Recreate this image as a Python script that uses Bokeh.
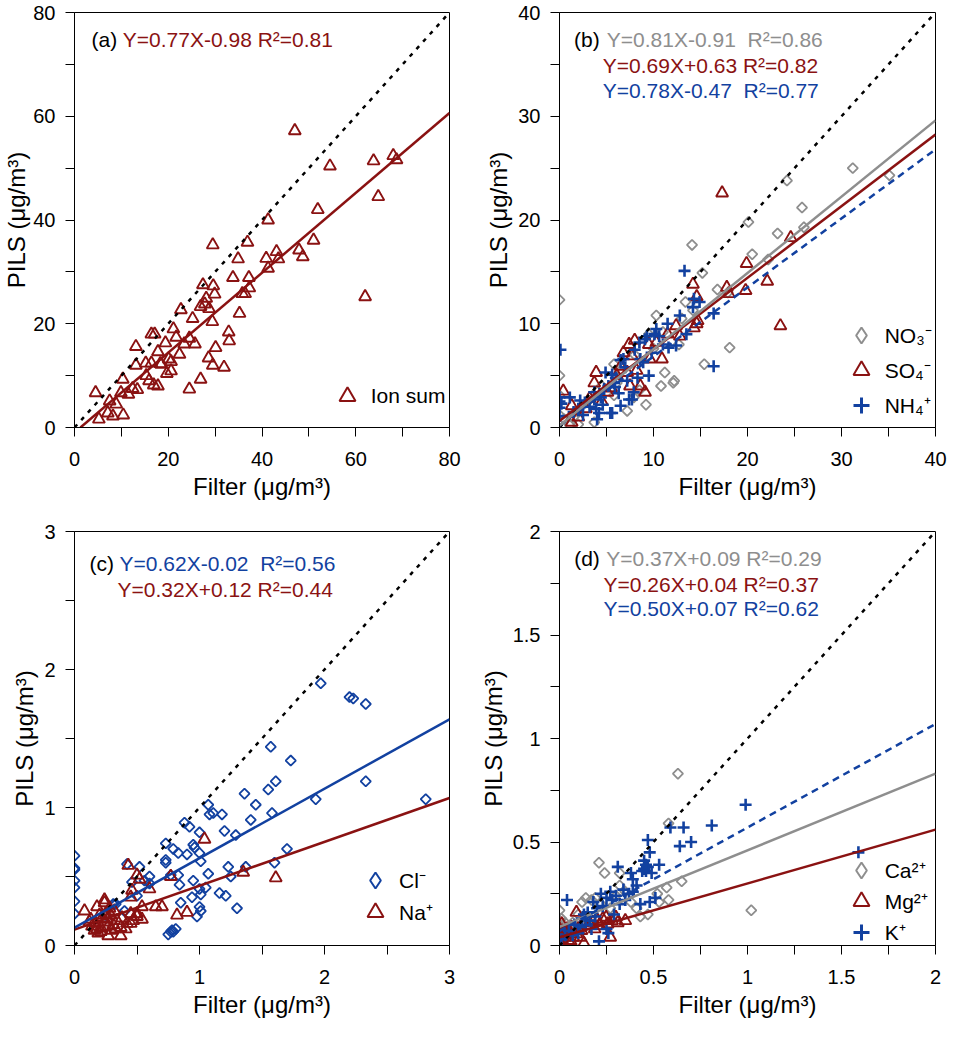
import numpy as np
from bokeh.plotting import figure
from bokeh.models import (Range1d, FixedTicker, CustomJSTickFormatter, Label,
                          Legend, LegendItem, ColumnDataSource)
from bokeh.layouts import gridplot
from bokeh.embed import file_html
from bokeh.resources import INLINE

RED = "#8A1212"
BLUE = "#1241A0"
GRAY = "#8E8E8E"
FONT = "Liberation Sans"

# ---------------- data ----------------
# (a) ion sum: (Filter, PILS)
ION_SUM = [(47.0, 57.2), (54.5, 50.4), (63.8, 51.4), (68.0, 52.4), (68.7, 51.6), (64.8, 44.5),
           (51.9, 42.0), (41.3, 40.0), (51.0, 36.1), (36.9, 35.7), (29.5, 35.2), (43.1, 33.9),
           (47.9, 34.2), (48.7, 32.9), (40.9, 32.6), (43.5, 32.5), (34.9, 32.5), (41.3, 30.7),
           (33.8, 28.9), (37.2, 28.9), (29.6, 27.3), (27.4, 27.5), (37.3, 26.9), (35.8, 25.8),
           (36.4, 25.8), (29.9, 25.7), (28.1, 24.9), (27.8, 23.8), (26.9, 23.3), (28.7, 22.9),
           (22.7, 22.7), (25.2, 21.0), (35.2, 22.0), (29.4, 20.4), (62.0, 25.2), (21.1, 19.0),
           (16.4, 18.0), (17.1, 18.0), (21.7, 17.4), (32.9, 18.4), (33.0, 16.7), (24.5, 17.2),
           (19.4, 16.3), (23.4, 16.1), (25.7, 16.1), (13.1, 15.6), (30.1, 15.4), (17.8, 14.6),
           (22.4, 14.1), (28.6, 13.4), (20.1, 13.2), (15.2, 12.4), (16.4, 12.4), (18.3, 12.3),
           (18.5, 12.2), (13.1, 12.0), (20.6, 12.7), (29.5, 12.0), (31.9, 11.6), (20.6, 10.9),
           (19.7, 10.4), (15.3, 10.0), (15.9, 9.0), (10.3, 9.3), (26.9, 9.3), (16.9, 8.2),
           (17.8, 8.0), (12.4, 7.5), (13.4, 7.3), (24.5, 7.4), (9.9, 6.7), (11.5, 6.4),
           (4.5, 6.7), (7.5, 5.1), (8.9, 4.5), (7.1, 2.8), (8.2, 2.2), (10.4, 2.4), (5.2, 1.6)]

# (b) NO3-, SO4-, NH4+
NO3 = [(31.2, 25.0), (24.2, 23.8), (35.1, 24.3), (25.8, 21.2), (26.0, 19.3), (20.1, 19.8),
       (23.2, 18.7), (20.5, 16.7), (14.1, 17.6), (22.2, 16.2), (15.2, 14.9), (16.8, 13.3),
       (10.3, 10.8), (13.4, 12.1), (12.7, 8.0), (18.1, 7.7), (15.4, 6.1), (11.2, 5.3),
       (12.1, 4.3), (12.2, 4.5), (10.8, 4.0), (7.2, 1.6), (9.2, 2.2), (0.0, 12.3), (0.0, 5.0),
       (0.0, 3.1), (1.1, 0.2), (3.7, 0.5), (2.0, 0.3), (5.8, 6.1), (8.5, 3.6), (6.1, 4.3),
       (7.9, 2.9), (5.8, 3.1), (10.0, 7.6), (11.0, 9.2), (14.2, 11.3), (17.9, 13.0),
       (13.0, 10.5), (9.5, 9.0), (8.0, 7.0), (6.5, 5.5), (4.5, 4.0), (3.0, 2.5), (2.0, 1.5),
       (0.5, 0.8), (1.5, 1.0), (4.0, 3.5), (0.0, 1.2)]
SO4 = [(17.3, 22.6), (24.6, 18.3), (19.9, 15.8), (22.1, 14.1), (23.5, 9.8), (19.8, 13.2),
       (18.0, 12.9), (14.2, 13.8), (14.6, 12.6), (14.7, 10.3), (14.3, 9.6), (10.9, 6.6),
       (9.5, 8.0), (8.0, 8.4), (7.4, 8.0), (7.7, 6.9), (9.1, 3.4), (8.6, 4.0), (3.9, 5.3),
       (3.7, 4.3), (0.4, 3.5), (1.3, 2.1), (2.0, 1.0), (6.1, 5.0), (7.2, 5.3), (12.8, 8.8),
       (12.4, 9.8), (5.1, 3.4), (6.5, 5.9), (7.5, 4.0), (10.3, 8.2), (9.6, 6.6), (17.8, 13.5),
       (14.6, 10.0), (1.3, 0.5), (4.5, 2.5), (5.5, 3.8), (8.2, 5.5), (6.8, 7.2), (11.5, 9.0),
       (2.8, 1.8), (3.2, 2.8)]
NH4 = [(13.3, 15.1), (14.3, 12.4), (14.9, 12.1), (16.4, 11.0), (12.8, 10.8), (11.5, 10.0),
       (10.3, 9.5), (10.6, 8.8), (9.3, 8.8), (8.5, 8.2), (11.6, 7.7), (13.5, 9.0), (16.4, 5.9),
       (0.1, 7.5), (0.0, 2.9), (0.0, 1.9), (0.0, 1.1), (0.2, 2.3), (1.1, 2.9), (5.6, 1.4),
       (6.5, 2.1), (4.0, 0.8), (4.2, 1.4), (6.8, 6.6), (7.4, 2.7), (7.9, 3.4), (9.5, 5.0),
       (8.9, 6.3), (5.8, 4.3), (4.9, 5.3), (2.7, 2.4), (2.0, 1.8), (3.7, 3.4), (12.4, 7.9),
       (14.2, 11.6), (9.1, 8.5), (11.0, 8.0), (2.2, 2.6), (3.9, 1.8), (5.4, 1.4), (7.7, 2.7),
       (8.6, 6.6), (6.5, 6.5), (5.6, 5.1), (4.75, 3.7), (3.7, 2.7), (6.0, 4.8), (7.0, 5.8),
       (8.0, 7.5), (9.8, 7.2), (10.1, 9.0), (3.2, 2.0), (4.4, 2.9), (5.2, 4.0), (7.2, 4.5),
       (8.3, 4.8), (6.3, 3.3), (2.5, 1.2), (1.5, 1.5), (0.0, 2.5), (4.6, 2.2), (5.9, 3.9)]

# (c) Cl-, Na+
CL = [(1.97, 1.90), (2.20, 1.80), (2.23, 1.79), (2.33, 1.75), (1.57, 1.44), (1.73, 1.34),
      (1.36, 1.10), (1.55, 1.13), (1.61, 1.19), (2.33, 1.19), (1.45, 1.02), (1.93, 1.06),
      (2.81, 1.06), (1.07, 1.02), (1.08, 0.95), (1.11, 0.96), (1.18, 0.95), (1.41, 0.91),
      (1.58, 0.96), (0.88, 0.89), (0.92, 0.86), (1.00, 0.82), (1.20, 0.83), (1.29, 0.80),
      (0.73, 0.74), (0.79, 0.70), (0.95, 0.73), (0.96, 0.71), (0.83, 0.67), (0.90, 0.66),
      (0.73, 0.62), (0.73, 0.60), (1.00, 0.67), (1.01, 0.61), (1.70, 0.70), (1.60, 0.60),
      (0.42, 0.59), (0.52, 0.57), (1.23, 0.57), (1.37, 0.57), (1.25, 0.50), (1.07, 0.52),
      (0.83, 0.51), (0.84, 0.44), (0.60, 0.50), (0.56, 0.47), (0.77, 0.51), (0.46, 0.46),
      (0.95, 0.47), (0.50, 0.36), (0.94, 0.35), (1.00, 0.41), (1.05, 0.42), (1.16, 0.38),
      (1.21, 0.36), (1.01, 0.37), (0.85, 0.31), (1.30, 0.27), (1.00, 0.28), (1.01, 0.25),
      (0.98, 0.21), (0.31, 0.30), (0.75, 0.08), (0.77, 0.10), (0.78, 0.11), (0.79, 0.10),
      (0.81, 0.12), (0.0, 0.65), (0.0, 0.56), (0.0, 0.55), (0.0, 0.47), (0.0, 0.42),
      (0.0, 0.32), (0.0, 0.23), (0.33, 0.30), (0.25, 0.22), (0.40, 0.25), (0.60, 0.45)]
NA = [(1.04, 0.77), (0.43, 0.58), (0.77, 0.50), (1.35, 0.53), (1.61, 0.49), (0.50, 0.51),
      (0.52, 0.48), (0.60, 0.41), (0.46, 0.40), (0.45, 0.35), (0.24, 0.33), (0.65, 0.28),
      (0.70, 0.28), (0.82, 0.22), (0.90, 0.24), (0.08, 0.25), (0.18, 0.28), (0.54, 0.28),
      (0.45, 0.23), (0.50, 0.21), (0.27, 0.07), (0.37, 0.07), (0.42, 0.16), (0.13, 0.19),
      (0.17, 0.16), (0.18, 0.12), (0.21, 0.13), (0.24, 0.17), (0.26, 0.19), (0.29, 0.22),
      (0.31, 0.15), (0.30, 0.11), (0.34, 0.18), (0.37, 0.13), (0.41, 0.12), (0.21, 0.10),
      (0.16, 0.11), (0.12, 0.17), (0.25, 0.23), (0.28, 0.27), (0.20, 0.22), (0.47, 0.18),
      (0.50, 0.23), (0.54, 0.19), (0.24, 0.31), (0.33, 0.12), (0.45, 0.16), (0.14, 0.14),
      (0.22, 0.20), (0.32, 0.25), (0.38, 0.20), (0.27, 0.14), (0.19, 0.09)]

# (d) Ca2+, Mg2+, K+
CA = [(0.63, 0.83), (0.58, 0.59), (1.02, 0.17), (0.65, 0.31), (0.57, 0.28), (0.58, 0.22),
      (0.53, 0.21), (0.47, 0.15), (0.21, 0.40), (0.24, 0.35), (0.32, 0.35), (0.32, 0.29),
      (0.14, 0.23), (0.12, 0.21), (0.19, 0.23), (0.0, 0.17), (0.01, 0.13), (0.03, 0.11),
      (0.52, 0.25), (0.38, 0.21), (0.41, 0.18), (0.43, 0.14), (0.27, 0.18), (0.07, 0.11),
      (0.05, 0.08), (0.17, 0.22), (0.0, 0.12), (0.10, 0.15), (0.22, 0.20), (0.30, 0.24),
      (0.35, 0.26), (0.15, 0.12), (0.02, 0.05)]
MG = [(0.09, 0.16), (0.27, 0.04), (0.35, 0.12), (0.31, 0.11), (0.13, 0.01), (0.004, 0.056),
      (0.03, 0.04), (0.056, 0.064), (0.073, 0.04), (0.038, 0.08), (0.0, 0.024), (0.10, 0.08),
      (0.126, 0.112), (0.15, 0.096), (0.178, 0.112), (0.204, 0.12), (0.23, 0.128),
      (0.256, 0.104), (0.28, 0.12), (0.021, 0.016), (0.0, 0.08), (0.012, 0.104),
      (0.047, 0.024), (0.09, 0.056), (0.187, 0.08), (0.213, 0.096), (0.248, 0.136),
      (0.30, 0.136), (0.0, 0.04), (0.065, 0.088), (0.117, 0.072), (0.02, 0.07),
      (0.06, 0.02), (0.11, 0.04)]
K = [(1.59, 0.45), (0.99, 0.68), (0.81, 0.58), (0.59, 0.57), (0.66, 0.57), (0.70, 0.50),
     (0.64, 0.48), (0.47, 0.51), (0.48, 0.45), (0.53, 0.39), (0.45, 0.41), (0.47, 0.38),
     (0.46, 0.36), (0.49, 0.35), (0.38, 0.35), (0.39, 0.32), (0.31, 0.38), (0.04, 0.22),
     (0.41, 0.29), (0.43, 0.20), (0.48, 0.21), (0.51, 0.23), (0.39, 0.26), (0.34, 0.27),
     (0.27, 0.26), (0.25, 0.23), (0.18, 0.21), (0.19, 0.14), (0.15, 0.16), (0.21, 0.02),
     (0.08, 0.10), (0.12, 0.13), (0.10, 0.06), (0.01, 0.03), (0.25, 0.08), (0.29, 0.15),
     (0.32, 0.20), (0.37, 0.25), (0.45, 0.37), (0.46, 0.39), (0.44, 0.36), (0.30, 0.24),
     (0.22, 0.25), (0.28, 0.22), (0.23, 0.19), (0.13, 0.15), (0.14, 0.10), (0.05, 0.07),
     (0.07, 0.05), (0.26, 0.06), (0.16, 0.12), (0.20, 0.18), (0.35, 0.22), (0.17, 0.08),
     (0.03, 0.05), (0.11, 0.09)]

# regression lines as drawn: (intercept, slope)
FIT_A = {"ion": (-0.98, 0.77)}
FIT_B = {"NO3": (0.20, 0.735), "SO4": (0.63, 0.69), "NH4": (0.20, 0.665)}
FIT_C = {"Cl": (0.13, 0.503), "Na": (0.115, 0.318)}
FIT_D = {"Ca": (0.09, 0.37), "Mg": (0.04, 0.26), "K": (0.07, 0.50)}

EQ_A = ["Y=0.77X-0.98 R\u00b2=0.81"]
EQ_B = ["Y=0.81X-0.91\u00a0 R\u00b2=0.86", "Y=0.69X+0.63 R\u00b2=0.82", "Y=0.78X-0.47\u00a0 R\u00b2=0.77"]
EQ_C = ["Y=0.62X-0.02\u00a0 R\u00b2=0.56", "Y=0.32X+0.12 R\u00b2=0.44"]
EQ_D = ["Y=0.37X+0.09 R\u00b2=0.29", "Y=0.26X+0.04 R\u00b2=0.37", "Y=0.50X+0.07 R\u00b2=0.62"]

TICKS_A = ([0, 20, 40, 60, 80], [10, 30, 50, 70])
TICKS_B = ([0, 10, 20, 30, 40], [5, 15, 25, 35])
TICKS_C = ([0, 1, 2, 3], [0.5, 1.5, 2.5])
TICKS_D = ([0, 0.5, 1, 1.5, 2], [0.25, 0.75, 1.25, 1.75])

XLABEL = "Filter (\u03bcg/m\u00b3)"
YLABEL = "PILS (\u03bcg/m\u00b3)"


def make_fig(w, h, bl, br, bt, bb, vmax, ticks, ylab_standoff):
    p = figure(width=w, height=h, output_backend="svg", toolbar_location=None,
               x_range=Range1d(0, vmax), y_range=Range1d(0, vmax),
               min_border_left=bl, min_border_right=br, min_border_top=bt, min_border_bottom=bb)
    p.grid.visible = False
    p.outline_line_color = "black"
    p.outline_line_width = 1
    p.outline_line_alpha = 1
    p.background_fill_color = "white"
    p.border_fill_color = "white"
    for ax in (p.xaxis[0], p.yaxis[0]):
        ax.ticker = FixedTicker(ticks=ticks[0], minor_ticks=ticks[1])
        ax.formatter = CustomJSTickFormatter(code="return String(tick)")
        ax.major_tick_in = 0
        ax.minor_tick_in = 0
        ax.major_tick_out = 9
        ax.minor_tick_out = 9
        ax.axis_line_color = "black"
        ax.major_tick_line_color = "black"
        ax.minor_tick_line_color = "black"
        ax.major_label_text_font = FONT
        ax.major_label_text_font_size = "20px"
        ax.major_label_text_color = "black"
        ax.axis_label_text_font = FONT
        ax.axis_label_text_font_size = "24px"
        ax.axis_label_text_font_style = "normal"
        ax.axis_label_text_color = "black"
    p.xaxis.major_label_standoff = 15
    p.yaxis.major_label_standoff = 10
    p.xaxis.axis_label = XLABEL
    p.xaxis.axis_label_standoff = 4
    p.yaxis.axis_label = YLABEL
    p.yaxis.axis_label_standoff = ylab_standoff
    return p


def txt(p, x, y, text, color):
    p.add_layout(Label(x=x, y=y, x_units="screen", y_units="screen", text=text,
                       text_color=color, text_font=FONT, text_font_size="21px",
                       text_align="left", text_baseline="middle"))


def src(pairs):
    xs, ys = zip(*pairs)
    return ColumnDataSource(dict(x=list(xs), y=list(ys)))


def tri(p, pairs, color):
    return p.scatter("x", "y", source=src(pairs), marker="triangle", size=12,
                     line_color=color, fill_color=None, line_width=1.9)


def dia(p, pairs, color):
    return p.scatter("x", "y", source=src(pairs), marker="square", angle=np.pi / 4, size=7.2,
                     line_color=color, fill_color=None, line_width=1.8)


def crs(p, pairs, color):
    return p.scatter("x", "y", source=src(pairs), marker="cross", size=12,
                     line_color=color, line_width=2.6)


def one_to_one(p, vmax):
    p.line([0, vmax], [0, vmax], line_color="black", line_width=2.5, line_dash="4 6")


def fit(p, bm, vmax, color, dash="solid"):
    b, m = bm
    x0 = max(0.0, -b / m)
    xs = np.array([x0, vmax])
    p.line(xs, b + m * xs, line_color=color, line_width=2.5, line_dash=dash)


def key(p, label, marker, color, lw, pairs, loc):
    r = p.scatter("x", "y", source=src(pairs[:1]), marker=marker, size=10,
                  line_color=color, fill_color=None, line_width=lw, visible=False)
    lg = Legend(items=[LegendItem(label=label, renderers=[r])], location=loc,
                glyph_width=40, glyph_height=40, label_standoff=4, padding=0, margin=0,
                border_line_alpha=0, background_fill_alpha=0, inactive_fill_alpha=0,
                label_text_font=FONT, label_text_font_size="21px", label_text_color="black")
    p.add_layout(lg)


W1, W2 = 476, 479
H1, H2 = 515, 512
BL1, BR1 = 67, 27
BL2, BR2 = 77, 20

# ---- (a)
pa = make_fig(W1, H1, BL1, BR1, 12, H1 - 12 - 415, 80, TICKS_A, 0)
tri(pa, ION_SUM, RED)
one_to_one(pa, 80)
fit(pa, FIT_A["ion"], 80, RED)
txt(pa, 17, 388.3, "(a)", "black")
txt(pa, 48.3, 388.3, EQ_A[0], RED)
key(pa, "Ion sum", "triangle", RED, 2.0, ION_SUM, (252.7, 11.0))

# ---- (b)
pb = make_fig(W2, H1, BL2, BR2, 12, H1 - 12 - 415, 40, TICKS_B, 3)
dia(pb, NO3, GRAY)
tri(pb, SO4, RED)
crs(pb, NH4, BLUE)
one_to_one(pb, 40)
fit(pb, FIT_B["NH4"], 40, BLUE, "7 5")
fit(pb, FIT_B["SO4"], 40, RED)
fit(pb, FIT_B["NO3"], 40, GRAY)
txt(pb, 14.5, 388.3, "(b)", "black")
txt(pb, 47.3, 388.3, EQ_B[0], GRAY)
txt(pb, 43.3, 362.3, EQ_B[1], RED)
txt(pb, 43.3, 336.7, EQ_B[2], BLUE)
key(pb, "NO\u2083\u207b", "diamond", GRAY, 2.0, NO3, (281.7, 72.0))
key(pb, "SO\u2084\u207b", "triangle", RED, 2.0, SO4, (281.7, 37.0))
key(pb, "NH\u2084\u207a", "cross", BLUE, 3.0, NH4, (281.7, 2.0))

# ---- (c)
pc = make_fig(W1, H2, BL1, BR1, 16, H2 - 16 - 414, 3, TICKS_C, 3)
dia(pc, CL, BLUE)
tri(pc, NA, RED)
one_to_one(pc, 3)
fit(pc, FIT_C["Na"], 3, RED)
fit(pc, FIT_C["Cl"], 3, BLUE)
txt(pc, 15, 382, "(c)", "black")
txt(pc, 45, 382, EQ_C[0], BLUE)
txt(pc, 43, 356, EQ_C[1], RED)
key(pc, "Cl\u207b", "diamond", BLUE, 2.0, CL, (281.0, 45.1))
key(pc, "Na\u207a", "triangle", RED, 2.0, NA, (281.0, 13.3))

# ---- (d)
pd_ = make_fig(W2, H2, BL2, BR2, 16, H2 - 16 - 414, 2, TICKS_D, 3)
dia(pd_, CA, GRAY)
tri(pd_, MG, RED)
crs(pd_, K, BLUE)
one_to_one(pd_, 2)
fit(pd_, FIT_D["Mg"], 2, RED)
fit(pd_, FIT_D["Ca"], 2, GRAY)
fit(pd_, FIT_D["K"], 2, BLUE, "7 5")
txt(pd_, 14.7, 387.3, "(d)", "black")
txt(pd_, 46.7, 387.3, EQ_D[0], GRAY)
txt(pd_, 44, 361.3, EQ_D[1], RED)
txt(pd_, 44, 337, EQ_D[2], BLUE)
key(pd_, "Ca\u00b2\u207a", "diamond", GRAY, 2.0, CA, (281.7, 55.3))
key(pd_, "Mg\u00b2\u207a", "triangle", RED, 2.0, MG, (281.7, 24.3))
key(pd_, "K\u207a", "cross", BLUE, 3.0, K, (281.7, -6.7))

grid = gridplot([[pa, pb], [pc, pd_]], toolbar_location=None)
open("out.html", "w").write(file_html(grid, INLINE))
